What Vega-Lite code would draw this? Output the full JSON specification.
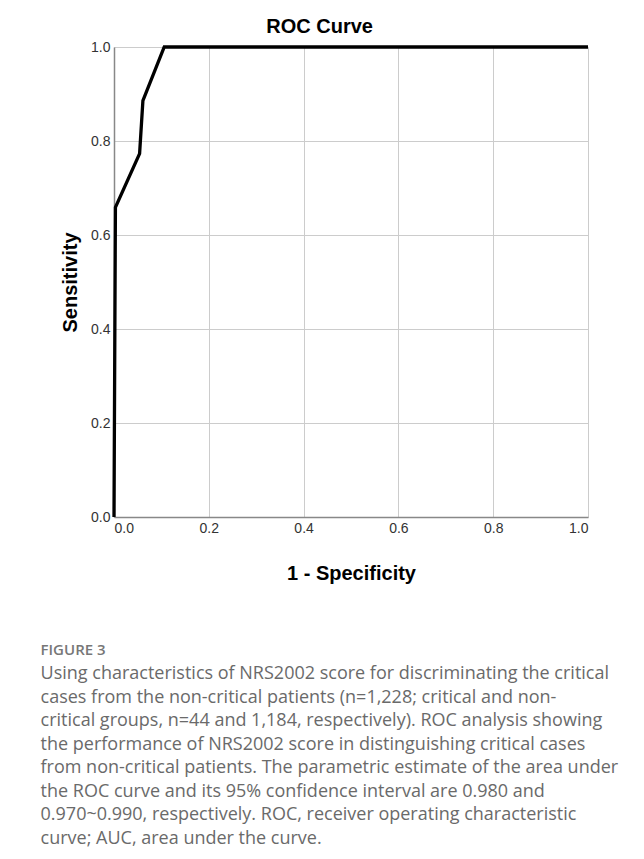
{
  "$schema": "https://vega.github.io/schema/vega-lite/v6.json",
  "padding": {"left": 40, "top": 17, "right": 40, "bottom": 5},
  "background": "white",
  "config": {
    "view": {"stroke": null},
    "font": "Liberation Sans"
  },
  "title": {
    "text": "FIGURE 3",
    "subtitle": [
      "Using characteristics of NRS2002 score for discriminating the critical",
      "cases from the non-critical patients (n=1,228; critical and non-",
      "critical groups, n=44 and 1,184, respectively). ROC analysis showing",
      "the performance of NRS2002 score in distinguishing critical cases",
      "from non-critical patients. The parametric estimate of the area under",
      "the ROC curve and its 95% confidence interval are 0.980 and",
      "0.970~0.990, respectively. ROC, receiver operating characteristic",
      "curve; AUC, area under the curve."
    ],
    "orient": "bottom",
    "anchor": "start",
    "frame": "bounds",
    "dx": -20,
    "offset": 60,
    "font": "Open Sans",
    "fontSize": 15,
    "fontWeight": 600,
    "color": "#777777",
    "subtitleFont": "Open Sans",
    "subtitleFontSize": 18,
    "subtitleColor": "#6a6a6a",
    "subtitleLineHeight": 23.5,
    "subtitlePadding": 7
  },
  "vconcat": [
    {
      "title": {
        "text": "ROC Curve",
        "font": "Liberation Sans",
        "fontSize": 20,
        "fontWeight": "bold",
        "color": "#000000",
        "offset": 3,
        "dx": -8,
        "frame": "bounds"
      },
      "width": 474,
      "height": 470,
      "data": {
        "values": [
          {"fpr": 0.0, "tpr": 0.0},
          {"fpr": 0.003, "tpr": 0.659},
          {"fpr": 0.054, "tpr": 0.773},
          {"fpr": 0.061, "tpr": 0.886},
          {"fpr": 0.106, "tpr": 1.0},
          {"fpr": 1.0, "tpr": 1.0}
        ]
      },
      "mark": {"type": "line", "color": "#000000", "strokeWidth": 3.3, "strokeJoin": "miter", "clip": false},
      "encoding": {
        "x": {
          "field": "fpr",
          "type": "quantitative",
          "scale": {"domain": [0, 1], "nice": false},
          "axis": {
            "title": "1 - Specificity",
            "values": [0, 0.2, 0.4, 0.6, 0.8, 1.0],
            "format": ".1f",
            "ticks": false,
            "labelPadding": 4,
            "labelFontSize": 14,
            "labelColor": "#333333",
            "labelFont": "Liberation Sans",
            "domainColor": "#888888",
            "domainWidth": 1.5,
            "gridColor": "#cccccc",
            "gridWidth": 1,
            "titleFont": "Liberation Sans",
            "titleFontSize": 20,
            "titleFontWeight": "bold",
            "titleColor": "#000000",
            "titlePadding": 28
          }
        },
        "y": {
          "field": "tpr",
          "type": "quantitative",
          "scale": {"domain": [0, 1], "nice": false},
          "axis": {
            "title": "Sensitivity",
            "values": [0, 0.2, 0.4, 0.6, 0.8, 1.0],
            "format": ".1f",
            "ticks": false,
            "labelPadding": 4,
            "labelFontSize": 14,
            "labelColor": "#333333",
            "labelFont": "Liberation Sans",
            "domainColor": "#888888",
            "domainWidth": 1.5,
            "gridColor": "#cccccc",
            "gridWidth": 1,
            "titleFont": "Liberation Sans",
            "titleFontSize": 20,
            "titleFontWeight": "bold",
            "titleColor": "#000000",
            "titlePadding": 10
          }
        },
        "order": {"field": "fpr", "type": "quantitative"}
      }
    }
  ]
}
